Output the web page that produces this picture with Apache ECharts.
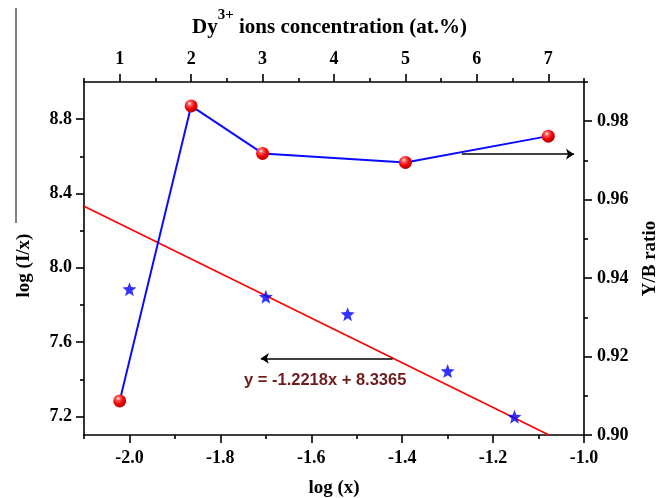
<!DOCTYPE html>
<html>
<head>
<meta charset="utf-8">
<script src="https://cdn.jsdelivr.net/npm/echarts@6/dist/echarts.min.js"></script>
<style>
  html, body { margin: 0; padding: 0; background: #ffffff; }
  #chart { width: 659px; height: 498px; }
</style>
</head>
<body>
<div id="chart"></div>
<script>
// Dy3+ concentration (at.%) on the top axis, with Y/B ratio on the right axis
const concentration = [1, 2, 3, 5, 7];
const ybRatio = [0.9087, 0.9839, 0.9718, 0.9695, 0.9762];

// log(x) vs log(I/x) on the bottom / left axes
const logX = [-2.0, -1.70, -1.52, -1.30, -1.153];
const logIx = [7.885, 7.844, 7.750, 7.444, 7.198];

// Linear fit drawn across the plot (end points)
const fitX = [-2.1, -1.077];
const fitY = [8.331, 7.1];
const fitLabel = 'y = -1.2218x + 8.3365';

// Tick positions
const bottomMajor = [-2.0, -1.8, -1.6, -1.4, -1.2, -1.0];
const bottomMinor = [-2.1, -1.9, -1.7, -1.5, -1.3, -1.1];
const topMajor = [1, 2, 3, 4, 5, 6, 7];
const topMinor = [0.5, 1.5, 2.5, 3.5, 4.5, 5.5, 6.5, 7.5];
const leftMajor = [7.2, 7.6, 8.0, 8.4, 8.8];
const leftMinor = [7.4, 7.8, 8.2, 8.6];
const rightMajor = [0.90, 0.92, 0.94, 0.96, 0.98];
const rightMinor = [0.91, 0.93, 0.95, 0.97, 0.99];

// Arrows pointing at the axis each curve belongs to
const arrowRight = { x: [5.79, 7.36], y: 0.9716 };
const arrowLeft = { x: [-1.421, -1.711], y: 7.512 };

const SERIF = '"Liberation Serif", "Times New Roman", serif';
const AX = { color: '#000', width: 1.6 };
const labelStyle = { fontFamily: SERIF, fontWeight: 'bold', fontSize: 18, color: '#000' };
const nameStyle = { fontFamily: SERIF, fontWeight: 'bold', fontSize: 19, color: '#000' };
const STAR = 'path://M50,0 L63,33 L100,36 L71,59 L81,95 L50,75 L19,95 L29,59 L0,36 L37,33 Z';

function minorAxis(base, values) {
  return Object.assign({
    type: 'value',
    axisLine: { show: false },
    axisLabel: { show: false },
    splitLine: { show: false },
    axisTick: { show: true, inside: false, length: 4, lineStyle: AX, customValues: values }
  }, base);
}

const chart = echarts.init(document.getElementById('chart'), null, { renderer: 'canvas' });

chart.setOption({
  animation: false,
  backgroundColor: '#ffffff',
  grid: { left: 84, right: 75, top: 82, bottom: 63, outerBoundsMode: 'none' },
  xAxis: [
    {
      type: 'value', position: 'bottom', min: -2.1, max: -1.0,
      name: 'log (x)', nameLocation: 'middle', nameGap: 44, nameTextStyle: nameStyle,
      axisLine: { show: true, lineStyle: AX },
      axisTick: { show: true, length: 8, lineStyle: AX, customValues: bottomMajor },
      axisLabel: Object.assign({ margin: 14, customValues: bottomMajor, formatter: v => v.toFixed(1) }, labelStyle),
      splitLine: { show: false }
    },
    minorAxis({ position: 'bottom', min: -2.1, max: -1.0 }, bottomMinor),
    {
      type: 'value', position: 'top', min: 0.5, max: 7.5,
      axisLine: { show: true, lineStyle: AX },
      axisTick: { show: true, length: 8, lineStyle: AX, customValues: topMajor },
      axisLabel: Object.assign({ margin: 14, customValues: topMajor, formatter: v => String(Math.round(v)) }, labelStyle),
      splitLine: { show: false }
    },
    minorAxis({ position: 'top', min: 0.5, max: 7.5 }, topMinor)
  ],
  yAxis: [
    {
      type: 'value', position: 'left', min: 7.1, max: 9.0,
      name: 'log (I/x)', nameLocation: 'middle', nameGap: 50, nameRotate: 90,
      nameTextStyle: Object.assign({ padding: [0, 14, 0, 0] }, nameStyle),
      axisLine: { show: true, lineStyle: AX },
      axisTick: { show: true, length: 8, lineStyle: AX, customValues: leftMajor },
      axisLabel: Object.assign({ margin: 12, customValues: leftMajor, formatter: v => v.toFixed(1) }, labelStyle),
      splitLine: { show: false }
    },
    minorAxis({ position: 'left', min: 7.1, max: 9.0 }, leftMinor),
    {
      type: 'value', position: 'right', min: 0.90, max: 0.99,
      name: 'Y/B ratio', nameLocation: 'middle', nameGap: 57, nameRotate: 90, nameTextStyle: nameStyle,
      axisLine: { show: true, lineStyle: AX },
      axisTick: { show: true, length: 8, lineStyle: AX, customValues: rightMajor },
      axisLabel: Object.assign({ margin: 13, customValues: rightMajor, formatter: v => v.toFixed(2) }, labelStyle),
      splitLine: { show: false }
    },
    minorAxis({ position: 'right', min: 0.90, max: 0.99 }, rightMinor)
  ],
  series: [
    {
      name: 'fit', type: 'line', xAxisIndex: 0, yAxisIndex: 0,
      data: fitX.map((x, i) => [x, fitY[i]]),
      symbol: 'none', lineStyle: { color: '#ff0000', width: 1.6 }, z: 2
    },
    {
      name: 'log(I/x)', type: 'scatter', xAxisIndex: 0, yAxisIndex: 0,
      data: logX.map((x, i) => [x, logIx[i]]),
      symbol: STAR, symbolSize: 14,
      itemStyle: { color: '#0000ff' }, z: 4
    },
    {
      name: 'Y/B', type: 'line', xAxisIndex: 2, yAxisIndex: 2,
      data: concentration.map((c, i) => [c, ybRatio[i]]),
      symbol: 'circle', symbolSize: 13, showSymbol: true,
      lineStyle: { color: '#0a0aff', width: 2 },
      itemStyle: {
        color: {
          type: 'radial', x: 0.38, y: 0.32, r: 0.72,
          colorStops: [
            { offset: 0, color: '#ffffff' },
            { offset: 0.22, color: '#ff5a5a' },
            { offset: 0.6, color: '#f00000' },
            { offset: 1, color: '#b00000' }
          ]
        },
        borderWidth: 0
      },
      z: 5
    },
    {
      name: 'arrows-right', type: 'lines', coordinateSystem: 'cartesian2d', xAxisIndex: 2, yAxisIndex: 2,
      symbol: ['none', 'arrow'], symbolSize: 8,
      lineStyle: { color: '#000', width: 1.5, opacity: 1 },
      data: [{ coords: [[arrowRight.x[0], arrowRight.y], [arrowRight.x[1], arrowRight.y]] }], z: 3
    },
    {
      name: 'arrows-left', type: 'lines', coordinateSystem: 'cartesian2d', xAxisIndex: 0, yAxisIndex: 0,
      symbol: ['none', 'arrow'], symbolSize: 8,
      lineStyle: { color: '#000', width: 1.5, opacity: 1 },
      data: [{ coords: [[arrowLeft.x[0], arrowLeft.y], [arrowLeft.x[1], arrowLeft.y]] }], z: 3
    }
  ],
  graphic: [
    {
      type: 'text', left: 244, top: 372, z: 10,
      style: { text: fitLabel, font: 'bold 16.5px "Liberation Sans", Arial, sans-serif', fill: '#6e1c1c' }
    },
    {
      type: 'text', left: 'center', top: 8, z: 10,
      style: {
        text: '{b|Dy}{sup|3+}{b| ions concentration (at.%)}',
        rich: {
          b: { fontFamily: SERIF, fontWeight: 'bold', fontSize: 21, fill: '#000', verticalAlign: 'bottom', lineHeight: 30 },
          sup: { fontFamily: SERIF, fontWeight: 'bold', fontSize: 15, fill: '#000', verticalAlign: 'top', lineHeight: 30, padding: [0, 0, 10, 0] }
        }
      }
    },
    {
      type: 'line', z: 10,
      shape: { x1: 16, y1: 8, x2: 16, y2: 223 },
      style: { stroke: '#000', lineWidth: 1 }
    }
  ]
});
</script>
</body>
</html>
